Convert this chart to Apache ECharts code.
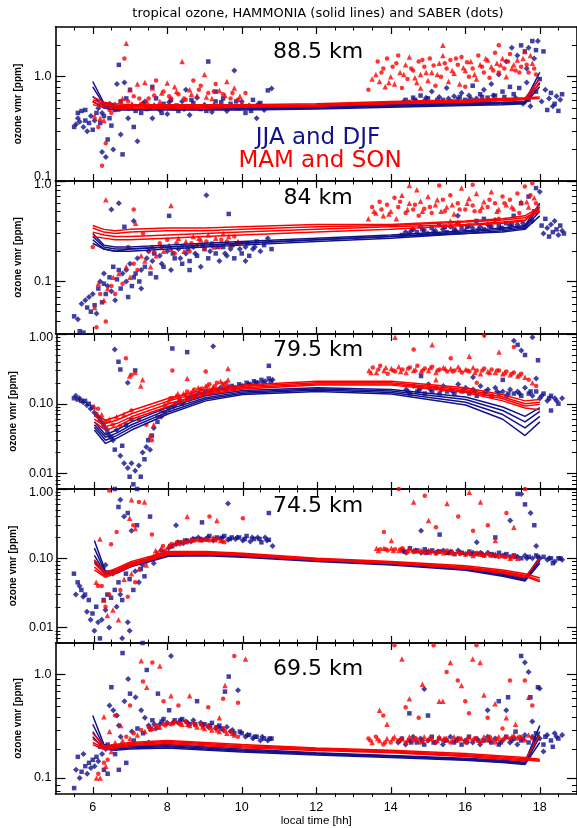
<!DOCTYPE html>
<html><head><meta charset="utf-8">
<script src="https://cdn.jsdelivr.net/npm/echarts@6/dist/echarts.min.js"></script>
<style>html,body{margin:0;padding:0;background:#fff}#c{width:577px;height:828px}</style>
</head><body><div id="c"></div>
<script>
// ---------------- DATA ----------------
const titleText = 'tropical ozone, HAMMONIA (solid lines) and SABER (dots)';
const panelNames = ['88.5 km', '84 km', '79.5 km', '74.5 km', '69.5 km'];
const xTickLabels = [6, 8, 10, 12, 14, 16, 18];
const yRanges = [[0.1, 3.0], [0.03, 1.0], [0.006, 1.0], [0.006, 1.0], [0.07, 2.0]];
const yDecimals = [1, 1, 2, 2, 1];

// model (HAMMONIA) local times
const lineX = [6.0, 6.3, 6.6, 7, 8, 9, 10, 12, 14, 16, 17, 17.6, 18.0];

// Panel 1: 88.5 km
const p1BlueLines = [
  [0.90,0.56,0.53,0.52,0.51,0.51,0.51,0.52,0.54,0.56,0.57,0.58,1.10],
  [0.80,0.54,0.51,0.50,0.50,0.50,0.50,0.51,0.53,0.55,0.56,0.57,0.98],
  [0.65,0.52,0.50,0.49,0.49,0.49,0.49,0.50,0.52,0.54,0.55,0.56,0.88],
  [0.58,0.50,0.48,0.48,0.48,0.48,0.48,0.49,0.51,0.53,0.54,0.55,0.80]];
const p1RedLines = [
  [0.64,0.57,0.55,0.54,0.54,0.54,0.54,0.55,0.58,0.60,0.62,0.63,0.64],
  [0.60,0.55,0.53,0.53,0.53,0.53,0.53,0.54,0.57,0.59,0.61,0.62,0.95],
  [0.57,0.53,0.52,0.52,0.52,0.52,0.52,0.53,0.56,0.58,0.60,0.61,0.62],
  [0.54,0.51,0.50,0.50,0.50,0.50,0.51,0.52,0.55,0.57,0.59,0.60,0.85]];
const p1BlueAM = [[5.5,0.33],[5.55,0.35],[5.6,0.45],[5.65,0.37],[5.7,0.47],[5.75,0.33],[5.8,0.48],[5.85,0.30],[5.9,0.36],[5.95,0.42],[6.0,0.31],[6.05,0.38],[6.1,0.45],[6.15,0.50],[6.2,0.36],[6.25,0.19],[6.3,0.42],[6.35,0.17],[6.4,0.25],[6.45,0.55],[6.5,0.34],[6.55,0.20],[6.6,0.48],[6.65,0.85],[6.7,1.3],[6.75,0.28],[6.8,0.18],[6.85,0.88],[6.9,0.62],[6.95,0.40],[7.0,0.75],[7.05,0.53],[7.1,0.33],[7.2,0.24],[7.3,0.45],[7.4,0.58],[7.5,0.52],[7.6,0.40],[7.7,0.62],[7.8,0.48],[7.9,0.55],[8.0,0.44],[8.1,0.60],[8.2,0.50],[8.3,0.47],[8.4,0.58],[8.5,0.52],[8.6,0.43],[8.7,0.56],[8.8,0.63],[8.9,0.49],[9.0,0.54],[9.1,1.4],[9.2,0.46],[9.3,0.58],[9.4,0.51],[9.5,0.62],[9.6,0.47],[9.7,0.55],[9.8,1.15],[9.9,0.50],[10.0,0.58],[10.1,0.45],[10.2,0.53],[10.3,0.60],[10.4,0.40],[10.5,0.56],[10.6,0.48],[10.7,0.74],[10.8,0.77],[7.6,0.80],[8.5,0.75],[9.3,0.72],
  [6.55,0.52],[6.75,0.58],[6.95,0.50],[7.15,0.47],[7.35,0.55],[7.45,0.49],[7.65,0.53],[7.85,0.45],[8.05,0.57],[8.25,0.53],[8.45,0.49],[8.65,0.60],[8.85,0.51],[9.05,0.47],[9.25,0.53],[9.45,0.57],[9.65,0.50],[9.85,0.58],[10.05,0.52],[10.25,0.47],[10.45,0.55],[10.65,0.52],[6.25,0.45],[6.45,0.40],[5.6,0.40],[5.8,0.38]];
const p1BluePM = [[14.3,0.55],[14.4,0.60],[14.5,0.57],[14.6,0.63],[14.7,0.58],[14.8,0.66],[14.9,0.59],[15.0,0.62],[15.1,0.72],[15.2,0.57],[15.3,0.64],[15.4,0.60],[15.5,0.78],[15.6,0.58],[15.7,0.65],[15.8,0.61],[15.9,0.70],[16.0,0.60],[16.1,0.66],[16.2,0.82],[16.3,0.62],[16.4,0.68],[16.5,0.75],[16.6,0.63],[16.7,0.85],[16.8,0.66],[16.9,1.05],[17.0,0.72],[17.1,1.4],[17.2,0.80],[17.25,1.9],[17.3,0.68],[17.4,1.6],[17.5,2.0],[17.55,0.55],[17.6,1.75],[17.65,1.2],[17.7,0.60],[17.75,0.52],[17.8,2.2],[17.85,1.5],[17.9,0.72],[17.95,2.2],[18.0,0.95],[18.05,0.58],[18.1,1.75],[18.15,0.75],[18.2,0.48],[18.25,0.62],[18.3,0.70],[18.35,0.52],[18.4,0.55],[18.45,0.65],[18.5,0.47],[18.55,0.60],[18.6,0.68],
  [14.35,0.58],[14.65,0.60],[14.95,0.63],[15.25,0.60],[15.55,0.62],[15.85,0.64],[16.15,0.62],[16.45,0.64],[16.75,0.66],[17.05,0.64],[17.35,0.63],[17.45,0.78],[17.65,0.88],[17.9,1.8],[17.7,1.9]];
const p1RedAM = [[6.05,0.42],[6.15,0.33],[6.2,0.40],[6.25,0.14],[6.3,0.38],[6.35,0.23],[6.4,0.52],[6.5,0.45],[6.6,0.55],[6.7,0.48],[6.8,0.62],[6.85,1.5],[6.9,2.1],[6.95,0.58],[7.0,0.75],[7.1,0.65],[7.2,0.85],[7.3,0.55],[7.4,0.88],[7.5,0.62],[7.6,0.78],[7.7,0.92],[7.8,0.58],[7.9,0.72],[8.0,0.87],[8.1,0.62],[8.2,0.80],[8.3,0.68],[8.4,1.4],[8.5,0.60],[8.6,0.75],[8.7,0.92],[8.8,0.66],[8.9,0.82],[9.0,1.05],[9.1,0.70],[9.2,0.62],[9.3,0.85],[9.4,0.74],[9.5,0.68],[9.6,0.90],[9.7,0.62],[9.8,0.78],[9.9,0.60],[10.0,0.56],[10.1,0.70],[8.15,0.52],[7.55,0.50],[9.45,0.55],
  [6.45,0.48],[6.65,0.52],[6.75,0.58],[7.05,0.55],[7.25,0.62],[7.45,0.58],[7.65,0.66],[7.85,0.70],[8.05,0.65],[8.25,0.72],[8.45,0.62],[8.65,0.68],[8.85,0.75],[9.05,0.64],[9.25,0.72],[9.55,0.66],[9.75,0.70],[9.95,0.65]];
const p1RedPM = [[13.4,0.75],[13.6,1.05],[13.65,1.4],[13.7,0.9],[13.8,1.2],[13.85,0.8],[13.9,1.5],[14.0,1.0],[14.05,1.25],[14.1,0.85],[14.2,1.6],[14.25,1.1],[14.3,0.78],[14.4,1.3],[14.45,0.95],[14.5,1.55],[14.6,1.15],[14.7,0.88],[14.75,1.4],[14.8,1.05],[14.9,1.25],[15.0,0.92],[15.05,1.5],[15.1,1.1],[15.2,0.82],[15.3,1.35],[15.35,1.0],[15.4,1.6],[15.5,1.2],[15.55,0.9],[15.6,1.45],[15.7,1.08],[15.8,1.3],[15.85,0.85],[15.9,1.55],[16.0,1.15],[16.1,1.0],[16.15,1.4],[16.2,1.2],[16.3,0.95],[16.35,1.6],[16.4,1.3],[16.5,1.1],[16.6,1.45],[16.65,0.98],[16.7,1.25],[16.8,1.7],[16.85,1.35],[16.9,1.1],[17.0,1.5],[17.05,1.2],[17.1,1.0],[17.2,1.65],[17.3,1.3],[17.35,1.15],[17.4,1.45],[17.5,1.25],[17.6,1.75],[17.7,1.1],[17.8,1.35],[17.9,1.05],[15.4,2.0],[16.9,2.0],[14.8,0.78],[16.0,0.8],
  [13.5,0.95],[13.75,1.1],[13.95,0.88],[14.15,1.35],[14.35,1.05],[14.55,1.2],[14.65,0.98],[14.85,1.45],[14.95,1.1],[15.15,1.28],[15.25,1.05],[15.45,1.35],[15.65,1.15],[15.75,1.5],[15.95,1.22],[16.05,1.38],[16.25,1.05],[16.45,1.25],[16.55,1.5],[16.75,1.15],[16.95,1.3],[17.15,1.4],[17.25,1.2],[17.45,1.1],[17.55,1.5],[17.65,1.3],[17.75,1.6],[17.85,1.2]];

// Panel 2: 84 km
const p2BlueLines = [
  [0.30,0.23,0.22,0.22,0.23,0.24,0.25,0.27,0.29,0.32,0.34,0.36,0.60],
  [0.28,0.22,0.21,0.21,0.22,0.23,0.24,0.26,0.28,0.31,0.33,0.35,0.55],
  [0.26,0.21,0.20,0.21,0.22,0.23,0.24,0.26,0.28,0.30,0.32,0.34,0.50],
  [0.24,0.21,0.20,0.20,0.21,0.22,0.23,0.25,0.27,0.30,0.31,0.33,0.45]];
const p2RedLines = [
  [0.36,0.33,0.32,0.33,0.34,0.34,0.35,0.37,0.37,0.40,0.42,0.45,0.55],
  [0.34,0.31,0.30,0.31,0.32,0.32,0.33,0.35,0.36,0.39,0.41,0.43,0.52],
  [0.31,0.29,0.28,0.28,0.29,0.30,0.31,0.33,0.35,0.37,0.39,0.41,0.50],
  [0.28,0.27,0.26,0.26,0.27,0.28,0.29,0.31,0.33,0.36,0.38,0.40,0.58]];
const p2BlueAM = [[5.5,0.045],[5.6,0.042],[5.65,0.032],[5.7,0.060],[5.75,0.031],[5.8,0.065],[5.85,0.055],[5.9,0.070],[5.95,0.050],[6.0,0.075],[6.05,0.058],[6.1,0.048],[6.15,0.085],[6.2,0.100],[6.25,0.062],[6.3,0.12],[6.35,0.075],[6.4,0.090],[6.45,0.11],[6.5,0.52],[6.55,0.14],[6.6,0.065],[6.65,0.105],[6.7,0.60],[6.75,0.085],[6.8,0.12],[6.85,0.35],[6.9,0.10],[6.95,0.07],[7.0,0.15],[7.05,0.09],[7.1,0.40],[7.15,0.12],[7.2,0.17],[7.25,0.10],[7.3,0.085],[7.4,0.14],[7.5,0.20],[7.55,0.12],[7.6,0.16],[7.7,0.11],[7.8,0.18],[7.9,0.14],[8.0,0.20],[8.05,0.45],[8.1,0.13],[8.2,0.17],[8.3,0.21],[8.4,0.15],[8.5,0.19],[8.6,0.16],[8.7,0.22],[8.8,0.18],[8.9,0.14],[9.0,0.21],[9.05,0.72],[9.1,0.17],[9.2,0.23],[9.3,0.19],[9.4,0.16],[9.5,0.22],[9.6,0.18],[9.65,0.47],[9.7,0.21],[9.8,0.17],[9.9,0.24],[10.0,0.19],[10.1,0.22],[10.2,0.18],[10.3,0.21],[10.4,0.25],[10.5,0.20],[10.6,0.23],[10.7,0.27],[10.8,0.21],[10.1,0.16],[8.6,0.13],
  [7.45,0.17],[7.65,0.19],[7.85,0.15],[8.15,0.19],[8.35,0.17],[8.55,0.21],[8.75,0.19],[8.95,0.23],[9.15,0.20],[9.35,0.22],[9.55,0.19],[9.75,0.23],[9.95,0.21],[10.15,0.24],[10.35,0.22],[6.3,0.095],[6.5,0.08],[6.7,0.13],[6.9,0.13],[7.1,0.11],[7.3,0.13]];
const p2BluePM = [[14.3,0.29],[14.4,0.31],[14.5,0.30],[14.6,0.33],[14.7,0.31],[14.8,0.35],[14.9,0.32],[15.0,0.30],[15.1,0.34],[15.2,0.32],[15.3,0.37],[15.4,0.33],[15.5,0.31],[15.6,0.35],[15.7,0.33],[15.8,0.38],[15.9,0.34],[16.0,0.32],[16.1,0.36],[16.2,0.34],[16.3,0.40],[16.4,0.35],[16.5,0.33],[16.6,0.37],[16.7,0.35],[16.8,0.41],[16.9,0.36],[17.0,0.34],[17.1,0.38],[17.2,0.36],[17.3,0.45],[17.4,0.37],[17.5,0.60],[17.6,0.35],[17.7,0.70],[17.8,0.40],[17.9,0.85],[18.0,0.78],[18.05,0.36],[18.1,0.30],[18.15,0.42],[18.2,0.34],[18.25,0.28],[18.3,0.37],[18.35,0.31],[18.4,0.40],[18.45,0.33],[18.5,0.29],[18.55,0.36],[18.6,0.32],[18.65,0.30],[15.8,0.45],[16.5,0.42],
  [14.55,0.32],[14.85,0.33],[15.15,0.31],[15.45,0.35],[15.75,0.32],[16.05,0.35],[16.35,0.33],[16.65,0.36],[16.95,0.34],[17.25,0.37],[17.55,0.38],[17.85,0.5]];
const p2RedAM = [[6.05,0.055],[6.1,0.035],[6.15,0.095],[6.2,0.075],[6.3,0.065],[6.35,0.040],[6.4,0.085],[6.5,0.09],[6.55,0.11],[6.6,0.075],[6.7,0.12],[6.8,0.095],[6.9,0.14],[6.95,0.22],[7.0,0.11],[7.1,0.15],[7.15,0.38],[7.2,0.13],[7.3,0.18],[7.35,0.30],[7.4,0.16],[7.5,0.20],[7.55,0.14],[7.6,0.22],[7.7,0.18],[7.8,0.24],[7.9,0.20],[8.0,0.26],[8.1,0.21],[8.2,0.19],[8.3,0.27],[8.4,0.22],[8.5,0.25],[8.6,0.20],[8.7,0.28],[8.8,0.23],[8.9,0.26],[9.0,0.21],[9.1,0.29],[9.2,0.24],[9.3,0.27],[9.4,0.22],[9.5,0.30],[9.6,0.25],[9.7,0.23],[9.8,0.28],[9.9,0.25],[10.0,0.24],[6.35,0.65],[7.1,0.52],[8.1,0.57],[6.0,0.22],
  [7.65,0.2],[7.85,0.22],[8.05,0.23],[8.25,0.24],[8.45,0.2],[8.65,0.24],[8.85,0.27],[9.05,0.25],[9.25,0.22],[9.45,0.26],[9.65,0.28],[9.85,0.24]];
const p2RedPM = [[13.4,0.42],[13.5,0.55],[13.6,0.48],[13.7,0.62],[13.8,0.45],[13.9,0.58],[14.0,0.50],[14.1,0.68],[14.15,0.42],[14.2,0.55],[14.3,0.72],[14.4,0.48],[14.5,0.60],[14.6,0.52],[14.7,0.82],[14.75,0.45],[14.8,0.63],[14.9,0.53],[15.0,0.70],[15.1,0.48],[15.2,0.58],[15.3,0.90],[15.35,0.50],[15.4,0.65],[15.5,0.55],[15.6,0.72],[15.7,0.47],[15.8,0.60],[15.9,0.85],[16.0,0.52],[16.1,0.67],[16.2,0.57],[16.3,0.75],[16.4,0.50],[16.5,0.62],[16.6,0.55],[16.7,0.78],[16.8,0.60],[16.9,0.52],[17.0,0.70],[17.1,0.58],[17.2,0.65],[17.3,0.53],[17.4,0.75],[17.5,0.62],[17.6,0.88],[17.7,0.55],[17.8,0.95],[17.85,0.68],[17.9,0.60],[14.5,0.90],[16.2,0.92],[15.6,0.40],[16.9,0.42],
  [13.55,0.5],[13.75,0.52],[13.95,0.47],[14.25,0.62],[14.45,0.52],[14.65,0.58],[14.85,0.5],[15.05,0.55],[15.25,0.65],[15.45,0.5],[15.65,0.58],[15.85,0.52],[16.05,0.6],[16.25,0.5],[16.45,0.55],[16.65,0.65],[16.85,0.5],[17.05,0.6],[17.25,0.55],[17.45,0.48],[17.65,0.62],[17.75,0.72]];

// Panel 3: 79.5 km
const p3BlueLines = [
  [0.055,0.036,0.042,0.055,0.090,0.130,0.155,0.170,0.160,0.125,0.090,0.066,0.088],
  [0.050,0.033,0.038,0.050,0.083,0.122,0.148,0.163,0.152,0.115,0.080,0.055,0.078],
  [0.046,0.030,0.035,0.046,0.077,0.116,0.142,0.157,0.145,0.105,0.070,0.045,0.066],
  [0.042,0.027,0.032,0.042,0.072,0.110,0.136,0.150,0.138,0.096,0.060,0.035,0.055]];
const p3RedLines = [
  [0.075,0.058,0.065,0.080,0.120,0.160,0.185,0.210,0.210,0.170,0.135,0.110,0.115],
  [0.068,0.052,0.058,0.072,0.110,0.150,0.178,0.200,0.200,0.160,0.125,0.100,0.105],
  [0.060,0.047,0.052,0.065,0.100,0.142,0.170,0.192,0.192,0.152,0.118,0.093,0.098],
  [0.055,0.042,0.047,0.060,0.092,0.135,0.163,0.185,0.185,0.145,0.110,0.087,0.082]];
const p3BlueAM = [[5.45,0.12],[5.5,0.13],[5.55,0.115],[5.6,0.12],[5.65,0.11],[5.7,0.105],[5.75,0.11],[5.8,0.095],[5.85,0.1],[5.9,0.085],[5.95,0.09],[6.0,0.075],[6.05,0.07],[6.1,0.065],[6.15,0.06],[6.2,0.055],[6.25,0.05],[6.3,0.045],[6.35,0.04],[6.4,0.035],[6.45,0.033],[6.5,0.03],[6.55,0.022],[6.6,0.042],[6.65,0.40],[6.7,0.018],[6.75,0.025],[6.8,0.014],[6.85,0.05],[6.9,0.012],[6.95,0.009],[7.0,0.014],[7.05,0.007],[7.1,0.011],[7.15,0.006],[7.2,0.013],[7.25,0.009],[7.3,0.02],[7.35,0.016],[7.4,0.024],[7.45,0.03],[7.5,0.022],[7.55,0.035],[7.6,0.045],[7.7,0.055],[7.8,0.065],[7.9,0.075],[8.0,0.085],[8.1,0.09],[8.2,0.1],[8.3,0.11],[8.4,0.105],[8.5,0.12],[8.6,0.125],[8.7,0.13],[8.8,0.14],[8.9,0.135],[9.0,0.15],[9.1,0.145],[9.2,0.16],[9.3,0.155],[9.4,0.17],[9.5,0.165],[9.6,0.175],[9.7,0.18],[9.8,0.17],[9.9,0.19],[10.0,0.18],[10.1,0.2],[10.2,0.19],[10.3,0.21],[10.4,0.2],[10.5,0.22],[10.6,0.21],[10.7,0.23],[10.8,0.22],[6.7,0.31],[6.9,0.20],[7.1,0.30],[7.0,0.06],[8.5,0.55],[9.2,0.67],[10.7,0.35],[6.55,0.6],[8.1,0.62],
  [8.15,0.095],[8.35,0.1],[8.55,0.115],[8.75,0.125],[8.95,0.14],[9.15,0.15],[9.35,0.16],[9.55,0.16],[9.75,0.17],[9.95,0.18],[10.15,0.19],[10.35,0.2],[10.55,0.2],[10.75,0.21]];
const p3BluePM = [[14.4,0.16],[14.5,0.14],[14.6,0.18],[14.7,0.15],[14.8,0.17],[14.9,0.14],[15.0,0.19],[15.1,0.15],[15.2,0.17],[15.3,0.14],[15.4,0.18],[15.5,0.15],[15.6,0.16],[15.7,0.14],[15.8,0.19],[15.9,0.15],[16.0,0.17],[16.1,0.14],[16.2,0.16],[16.3,0.13],[16.4,0.18],[16.5,0.14],[16.6,0.16],[16.7,0.13],[16.8,0.17],[16.9,0.14],[17.0,0.15],[17.1,0.13],[17.2,0.16],[17.3,0.14],[17.4,0.15],[17.5,0.13],[17.6,0.17],[17.7,0.14],[17.8,0.13],[17.9,0.15],[18.0,0.12],[18.1,0.14],[18.2,0.11],[18.3,0.13],[18.4,0.12],[18.5,0.10],[18.6,0.12],[18.3,0.08],[17.3,0.80],[17.4,0.70],[17.5,0.58],[17.6,0.50],[17.8,0.90],[17.95,0.42],[17.9,0.23],[14.8,0.25],[16.2,0.24],[17.0,0.22],
  [14.45,0.15],[14.75,0.16],[15.05,0.16],[15.35,0.16],[15.65,0.15],[15.95,0.16],[16.25,0.15],[16.55,0.15],[16.85,0.15],[17.15,0.14],[17.45,0.14],[17.75,0.15],[18.05,0.13],[18.25,0.12],[18.45,0.11]];
const p3RedAM = [[6.0,0.09],[6.1,0.085],[6.2,0.07],[6.3,0.055],[6.4,0.06],[6.5,0.05],[6.6,0.065],[6.7,0.048],[6.8,0.07],[6.85,0.45],[6.95,0.25],[7.0,0.08],[7.1,0.28],[7.2,0.06],[7.3,0.22],[7.4,0.05],[7.5,0.035],[7.55,0.03],[7.6,0.05],[7.7,0.065],[7.8,0.08],[7.9,0.095],[8.0,0.11],[8.1,0.12],[8.2,0.13],[8.3,0.125],[8.4,0.14],[8.5,0.15],[8.6,0.145],[8.7,0.16],[8.8,0.17],[8.9,0.165],[9.0,0.18],[9.1,0.19],[9.2,0.175],[9.3,0.2],[9.4,0.21],[9.5,0.19],[9.6,0.22],[7.0,0.26],[7.25,0.18],[8.1,0.3],[8.5,0.23],[9.0,0.29],[9.6,0.32],
  [8.05,0.12],[8.25,0.14],[8.45,0.135],[8.65,0.155],[8.85,0.16],[9.05,0.185],[9.25,0.18],[9.45,0.195],[9.55,0.2]];
const p3RedPM = [[13.4,0.3],[13.5,0.33],[13.6,0.28],[13.7,0.35],[13.8,0.3],[13.9,0.27],[14.0,0.32],[14.1,0.29],[14.2,0.34],[14.3,0.31],[14.4,0.28],[14.5,0.33],[14.6,0.3],[14.7,0.35],[14.8,0.29],[14.9,0.32],[15.0,0.3],[15.1,0.34],[15.2,0.28],[15.3,0.31],[15.4,0.33],[15.5,0.29],[15.6,0.32],[15.7,0.3],[15.8,0.34],[15.9,0.28],[16.0,0.31],[16.1,0.29],[16.2,0.33],[16.3,0.3],[16.4,0.27],[16.5,0.32],[16.6,0.29],[16.7,0.31],[16.8,0.28],[16.9,0.3],[17.0,0.27],[17.1,0.29],[17.2,0.26],[17.3,0.28],[17.4,0.25],[17.5,0.27],[17.6,0.24],[17.7,0.22],[17.8,0.2],[17.9,0.18],[14.1,0.9],[14.6,0.6],[15.1,0.7],[15.6,0.45],[16.1,0.48],[16.5,0.95],[16.9,0.55],[17.3,0.65],[15.2,0.22],[16.3,0.2],
  [13.45,0.28],[13.65,0.31],[13.85,0.33],[14.05,0.3],[14.25,0.29],[14.45,0.32],[14.65,0.31],[14.85,0.3],[15.05,0.33],[15.25,0.3],[15.45,0.32],[15.65,0.29],[15.85,0.31],[16.05,0.3],[16.25,0.28],[16.45,0.3],[16.65,0.28],[16.85,0.3],[17.05,0.28],[17.25,0.27],[17.45,0.26]];

// Panel 4: 74.5 km
const p4BlueLines = [
  [0.180,0.065,0.068,0.085,0.118,0.118,0.112,0.096,0.086,0.073,0.061,0.052,0.105],
  [0.140,0.062,0.065,0.082,0.114,0.115,0.109,0.094,0.084,0.071,0.059,0.050,0.098],
  [0.110,0.060,0.063,0.079,0.110,0.112,0.106,0.092,0.082,0.069,0.057,0.048,0.092],
  [0.090,0.058,0.061,0.076,0.107,0.109,0.104,0.090,0.080,0.067,0.055,0.047,0.085]];
const p4RedLines = [
  [0.095,0.062,0.072,0.090,0.125,0.125,0.118,0.100,0.090,0.078,0.068,0.060,0.052],
  [0.085,0.058,0.068,0.085,0.120,0.122,0.115,0.098,0.088,0.075,0.065,0.057,0.048],
  [0.075,0.055,0.065,0.082,0.117,0.119,0.112,0.096,0.086,0.073,0.063,0.055,0.046],
  [0.068,0.053,0.062,0.078,0.113,0.115,0.109,0.094,0.084,0.071,0.061,0.053,0.100]];
const p4BlueAM = [[5.45,0.06],[5.5,0.03],[5.55,0.045],[5.6,0.04],[5.65,0.035],[5.7,0.028],[5.75,0.03],[5.8,0.017],[5.85,0.025],[5.9,0.013],[5.95,0.016],[6.0,0.009],[6.05,0.02],[6.1,0.012],[6.15,0.007],[6.2,0.013],[6.25,0.025],[6.3,0.018],[6.35,0.03],[6.4,0.01],[6.45,0.027],[6.5,0.06],[6.55,0.035],[6.6,0.02],[6.65,0.045],[6.7,0.03],[6.75,0.025],[6.8,0.4],[6.85,0.06],[6.9,0.012],[6.95,0.05],[7.0,0.25],[7.05,0.035],[7.1,0.065],[7.15,0.3],[7.2,0.045],[7.25,0.07],[7.3,0.08],[7.35,0.055],[7.4,0.09],[7.5,0.1],[7.6,0.085],[7.7,0.11],[7.8,0.13],[7.9,0.12],[8.0,0.14],[8.1,0.15],[8.2,0.16],[8.3,0.17],[8.4,0.165],[8.5,0.18],[8.6,0.175],[8.7,0.19],[8.8,0.2],[8.9,0.185],[9.0,0.19],[9.1,0.21],[9.2,0.18],[9.3,0.2],[9.4,0.195],[9.5,0.21],[9.6,0.185],[9.7,0.2],[9.8,0.19],[9.9,0.2],[10.0,0.18],[10.1,0.21],[10.2,0.175],[10.3,0.19],[10.4,0.2],[10.5,0.17],[10.6,0.2],[10.7,0.185],[10.8,0.15],[10.7,0.45],[9.6,0.62],[6.55,1.0],[6.7,0.7],[6.65,0.55],[7.1,1.2],[6.9,0.45],[6.3,0.08],[7.5,0.4],[8.2,0.3],[8.9,0.33],[6.75,0.007],[7.3,0.006],[6.95,0.009],
  [8.05,0.15],[8.25,0.17],[8.45,0.18],[8.65,0.19],[8.85,0.19],[9.05,0.2],[9.25,0.19],[9.45,0.2],[9.65,0.19],[9.85,0.2],[10.05,0.19],[10.25,0.2],[10.45,0.19],[10.65,0.18]];
const p4BluePM = [[14.3,0.13],[14.4,0.12],[14.5,0.14],[14.6,0.125],[14.7,0.13],[14.8,0.12],[14.9,0.135],[15.0,0.125],[15.1,0.13],[15.2,0.12],[15.3,0.125],[15.4,0.13],[15.5,0.12],[15.6,0.125],[15.7,0.115],[15.8,0.13],[15.9,0.12],[16.0,0.115],[16.1,0.125],[16.2,0.12],[16.3,0.115],[16.4,0.12],[16.5,0.11],[16.6,0.12],[16.7,0.115],[16.8,0.11],[16.9,0.12],[17.0,0.11],[17.1,0.115],[17.2,0.105],[17.3,0.11],[17.4,0.105],[17.5,0.1],[17.6,0.11],[17.7,0.105],[17.8,0.1],[17.9,0.11],[18.0,0.1],[18.1,0.105],[18.2,0.095],[18.3,0.1],[18.4,0.09],[18.5,0.1],[18.6,0.095],[18.35,0.085],[14.8,0.25],[15.3,0.22],[16.3,0.17],[16.8,0.2],[17.2,0.35],[17.4,0.85],[17.5,0.85],[17.6,0.6],[17.75,0.45],[17.85,0.3],[17.9,0.15],
  [14.35,0.125],[14.65,0.13],[14.95,0.12],[15.25,0.125],[15.55,0.12],[15.85,0.12],[16.15,0.115],[16.45,0.115],[16.75,0.11],[17.05,0.11],[17.35,0.105],[17.65,0.1],[17.95,0.105],[18.25,0.1],[18.55,0.1]];
const p4RedAM = [[6.05,0.045],[6.1,0.04],[6.15,0.19],[6.2,0.04],[6.25,0.025],[6.3,0.02],[6.35,0.015],[6.4,0.03],[6.5,0.018],[6.6,0.24],[6.65,0.013],[6.7,0.035],[6.8,0.05],[6.9,0.028],[7.0,0.06],[7.1,0.045],[7.2,0.07],[7.3,0.09],[7.4,0.08],[7.5,0.1],[7.6,0.11],[7.7,0.12],[7.8,0.14],[7.9,0.13],[8.0,0.15],[8.1,0.16],[8.2,0.17],[8.3,0.16],[8.4,0.18],[8.5,0.17],[8.6,0.185],[8.7,0.18],[8.8,0.19],[8.9,0.18],[9.0,0.19],[9.1,0.18],[9.2,0.2],[9.3,0.19],[9.4,0.18],[9.5,0.17],[6.25,1.1],[6.4,0.95],[7.0,0.7],[7.2,0.65],[7.35,0.65],[7.05,0.3],[7.1,0.27],[7.55,0.22],[8.5,0.4],[9.1,0.4],[9.3,0.35],[10.0,0.38],[6.95,0.38],[6.45,0.16],
  [7.65,0.13],[7.85,0.15],[8.05,0.16],[8.25,0.17],[8.45,0.175],[8.65,0.18],[8.85,0.185],[9.05,0.185],[9.25,0.185],[9.45,0.175]];
const p4RedPM = [[13.6,0.14],[13.7,0.135],[13.8,0.14],[13.9,0.13],[14.0,0.14],[14.1,0.135],[14.2,0.13],[14.3,0.14],[14.4,0.125],[14.5,0.135],[14.6,0.13],[14.7,0.125],[14.8,0.13],[14.9,0.12],[15.0,0.13],[15.1,0.125],[15.2,0.12],[15.3,0.125],[15.4,0.12],[15.5,0.13],[15.6,0.12],[15.7,0.115],[15.8,0.125],[15.9,0.12],[16.0,0.115],[16.1,0.12],[16.2,0.11],[16.3,0.12],[16.4,0.115],[16.5,0.11],[16.6,0.12],[16.7,0.11],[16.8,0.115],[16.9,0.105],[17.0,0.11],[17.1,0.105],[17.2,0.1],[17.3,0.11],[17.4,0.1],[14.2,1.0],[14.6,0.65],[14.9,0.8],[15.0,0.35],[15.2,0.28],[15.5,0.62],[15.8,0.4],[16.1,0.9],[16.2,0.25],[16.4,0.65],[16.6,0.3],[16.8,0.18],[17.1,0.45],[17.3,0.28],[17.6,1.0],[14.0,0.18],[13.8,0.24],
  [13.65,0.13],[13.85,0.135],[14.05,0.13],[14.25,0.135],[14.45,0.13],[14.65,0.125],[14.85,0.125],[15.05,0.12],[15.25,0.125],[15.45,0.12],[15.65,0.125],[15.85,0.115],[16.05,0.12],[16.25,0.115],[16.45,0.115],[16.65,0.11],[16.85,0.11],[17.05,0.105],[17.25,0.105]];

// Panel 5: 69.5 km
const p5BlueLines = [
  [0.40,0.21,0.200,0.205,0.210,0.200,0.190,0.175,0.165,0.155,0.148,0.142,0.32],
  [0.33,0.20,0.195,0.200,0.205,0.195,0.185,0.172,0.163,0.152,0.145,0.139,0.28],
  [0.28,0.195,0.19,0.195,0.200,0.190,0.182,0.170,0.160,0.150,0.143,0.137,0.25],
  [0.25,0.19,0.185,0.19,0.195,0.186,0.178,0.167,0.158,0.148,0.141,0.135,0.22]];
const p5RedLines = [
  [0.27,0.205,0.210,0.220,0.230,0.220,0.210,0.195,0.185,0.172,0.163,0.158,0.152],
  [0.24,0.198,0.205,0.215,0.225,0.215,0.205,0.192,0.182,0.168,0.159,0.153,0.148],
  [0.22,0.193,0.200,0.210,0.220,0.210,0.200,0.188,0.178,0.164,0.155,0.150,0.145],
  [0.21,0.188,0.195,0.205,0.215,0.205,0.196,0.184,0.175,0.161,0.152,0.147,0.26]];
const p5BlueAM = [[5.5,0.08],[5.55,0.12],[5.6,0.16],[5.65,0.1],[5.7,0.115],[5.75,0.17],[5.8,0.13],[5.85,0.11],[5.9,0.14],[5.95,0.125],[6.0,0.15],[6.05,0.13],[6.1,0.16],[6.15,0.145],[6.2,0.2],[6.25,0.17],[6.3,0.12],[6.35,0.19],[6.4,0.21],[6.45,0.5],[6.5,0.75],[6.55,0.45],[6.6,0.17],[6.65,0.4],[6.7,0.12],[6.75,0.25],[6.8,1.6],[6.85,0.55],[6.9,0.14],[6.95,0.9],[7.0,0.65],[7.05,0.28],[7.1,0.23],[7.15,0.6],[7.2,0.3],[7.3,0.45],[7.35,0.27],[7.4,0.38],[7.45,1.1],[7.5,0.32],[7.6,0.36],[7.7,0.3],[7.75,0.65],[7.8,0.33],[7.9,0.37],[8.0,0.34],[8.05,0.45],[8.1,1.5],[8.2,0.36],[8.3,0.34],[8.4,0.37],[8.5,0.35],[8.6,0.33],[8.7,0.36],[8.8,0.55],[8.9,0.34],[9.0,0.33],[9.1,0.31],[9.2,0.34],[9.3,0.3],[9.4,0.32],[9.5,0.29],[9.55,0.68],[9.6,0.31],[9.65,0.95],[9.7,0.28],[9.8,0.27],[9.9,0.7],[10.0,0.27],[10.1,0.25],[10.2,0.26],[10.3,0.24],[10.4,0.25],[10.5,0.23],[10.6,0.24],[10.7,0.23],[10.8,0.24],[7.5,0.22],[6.4,0.11],[6.7,0.32],
  [7.55,0.3],[7.65,0.33],[7.85,0.35],[8.15,0.34],[8.35,0.36],[8.55,0.34],[8.75,0.33],[8.95,0.32],[9.15,0.32],[9.35,0.31],[9.45,0.3],[9.75,0.29],[9.95,0.28],[10.15,0.26],[10.35,0.25],[10.55,0.25],[10.75,0.24]];
const p5BluePM = [[14.2,0.22],[14.3,0.24],[14.4,0.21],[14.5,0.23],[14.6,0.25],[14.7,0.22],[14.8,0.24],[14.9,0.21],[15.0,0.23],[15.1,0.25],[15.2,0.22],[15.3,0.24],[15.4,0.21],[15.5,0.23],[15.6,0.25],[15.7,0.22],[15.8,0.24],[15.9,0.21],[16.0,0.23],[16.1,0.25],[16.2,0.22],[16.3,0.24],[16.4,0.21],[16.5,0.23],[16.6,0.25],[16.7,0.22],[16.8,0.24],[16.9,0.21],[17.0,0.23],[17.1,0.25],[17.2,0.22],[17.3,0.24],[17.4,0.21],[17.5,0.23],[17.6,0.26],[17.7,0.22],[17.8,0.25],[17.9,0.27],[18.0,0.24],[18.1,0.21],[18.2,0.26],[18.3,0.23],[18.4,0.27],[18.5,0.24],[18.6,0.26],[18.35,0.2],[18.1,0.18],[14.5,0.42],[14.9,0.72],[15.0,0.4],[16.6,0.45],[16.9,0.55],[17.1,0.45],[17.15,0.6],[17.6,1.3],[17.5,1.5],[17.7,1.05],[17.75,0.6],[17.8,0.35],[17.95,0.75],[18.0,0.73],[17.35,0.28],
  [14.25,0.23],[14.55,0.22],[14.85,0.23],[15.15,0.22],[15.45,0.23],[15.75,0.23],[16.05,0.22],[16.35,0.23],[16.65,0.23],[16.95,0.22],[17.25,0.23],[17.55,0.24],[17.85,0.24],[18.15,0.25],[18.45,0.25]];
const p5RedAM = [[6.1,0.1],[6.15,0.11],[6.2,0.1],[6.3,0.14],[6.35,0.13],[6.4,0.15],[6.5,0.18],[6.55,0.2],[6.6,0.22],[6.7,0.2],[6.8,0.23],[6.9,0.25],[7.0,0.24],[7.1,0.27],[7.2,0.26],[7.3,0.29],[7.4,0.28],[7.5,0.31],[7.6,0.3],[7.7,0.32],[7.8,0.31],[7.9,0.33],[8.0,0.34],[8.1,0.33],[8.2,0.35],[8.3,0.34],[8.4,0.33],[8.5,0.35],[8.6,0.32],[8.7,0.34],[8.8,0.31],[8.9,0.33],[9.0,0.3],[9.1,0.32],[9.2,0.29],[9.3,0.31],[9.4,0.28],[9.5,0.3],[9.6,0.27],[9.7,0.28],[9.8,0.26],[9.9,0.25],[6.45,0.28],[6.6,0.4],[6.75,0.32],[7.0,0.5],[7.3,1.35],[7.35,0.85],[7.45,0.75],[7.6,1.3],[7.8,1.2],[7.9,0.55],[8.1,0.62],[8.3,0.5],[8.6,0.62],[9.1,0.48],[9.4,0.38],[9.5,0.58],[9.55,0.78],[9.8,1.5],[10.1,1.4],[9.9,0.53],[6.3,0.39],
  [7.55,0.29],[7.75,0.31],[7.95,0.32],[8.15,0.34],[8.35,0.33],[8.55,0.33],[8.75,0.32],[8.95,0.31],[9.15,0.3],[9.35,0.29],[9.55,0.28],[9.75,0.27]];
const p5RedPM = [[13.4,0.24],[13.5,0.22],[13.6,0.25],[13.7,0.23],[13.8,0.21],[13.9,0.24],[14.0,0.22],[14.1,0.25],[14.2,0.23],[14.3,0.24],[14.4,0.22],[14.5,0.25],[14.6,0.23],[14.7,0.24],[14.8,0.22],[14.9,0.25],[15.0,0.23],[15.1,0.24],[15.2,0.22],[15.3,0.25],[15.4,0.23],[15.5,0.24],[15.6,0.22],[15.7,0.25],[15.8,0.23],[15.9,0.24],[16.0,0.22],[16.1,0.25],[16.2,0.23],[16.3,0.24],[16.4,0.22],[16.5,0.25],[16.6,0.23],[16.7,0.24],[16.8,0.22],[16.9,0.25],[17.0,0.23],[17.1,0.25],[17.2,0.24],[17.3,0.26],[17.4,0.24],[17.5,0.25],[17.6,0.23],[17.7,0.26],[17.8,0.24],[13.7,0.45],[13.8,0.4],[13.9,0.33],[14.1,1.9],[14.3,1.4],[14.4,0.48],[14.5,0.58],[14.75,0.38],[14.85,0.8],[15.15,1.9],[15.3,0.55],[15.5,1.05],[15.6,1.3],[15.8,0.87],[15.9,0.78],[16.0,0.55],[16.2,1.4],[16.3,1.9],[16.4,1.3],[16.6,0.38],[16.8,0.52],[17.0,0.3],[17.1,0.38],[17.2,0.87],[17.35,0.33],[17.6,0.87],[17.7,0.6],[17.8,0.5],[15.4,0.55],[16.1,0.42],[16.5,0.63],
  [13.45,0.23],[13.65,0.24],[13.85,0.22],[14.05,0.24],[14.25,0.23],[14.45,0.23],[14.65,0.24],[14.85,0.23],[15.05,0.24],[15.25,0.23],[15.45,0.24],[15.65,0.23],[15.85,0.24],[16.05,0.24],[16.25,0.24],[16.45,0.23],[16.65,0.25],[16.85,0.24],[17.05,0.24],[17.25,0.25],[17.45,0.25]];

// ---------------- CHART ----------------
const NAVY = '#12128c', RED = '#ff0000';
const FONT = 'Liberation Sans';
const panels = [
  {blueLines: p1BlueLines, redLines: p1RedLines, blueDots: p1BlueAM.concat(p1BluePM), redDots: p1RedAM.concat(p1RedPM)},
  {blueLines: p2BlueLines, redLines: p2RedLines, blueDots: p2BlueAM.concat(p2BluePM), redDots: p2RedAM.concat(p2RedPM)},
  {blueLines: p3BlueLines, redLines: p3RedLines, blueDots: p3BlueAM.concat(p3BluePM), redDots: p3RedAM.concat(p3RedPM)},
  {blueLines: p4BlueLines, redLines: p4RedLines, blueDots: p4BlueAM.concat(p4BluePM), redDots: p4RedAM.concat(p4RedPM)},
  {blueLines: p5BlueLines, redLines: p5RedLines, blueDots: p5BlueAM.concat(p5BluePM), redDots: p5RedAM.concat(p5RedPM)}
];
const gridTops = [27, 181, 334, 489, 643];
const gridHeights = [154, 153, 155, 154, 154];
const panelLabelY = [52, 198, 350, 506, 669];
const GL = 55.5, GW = 527, XMIN = 5, XMAX = 19;

const xMinorTicks = [];
for (let v = 5.5; v < 19; v += 0.5) { if (!(Number.isInteger(v) && v % 2 === 0)) xMinorTicks.push(v); }

function decades(mn, mx) {
  const maj = [], min = [];
  for (let e = -4; e <= 2; e++) {
    const p = Math.pow(10, e);
    if (p >= mn * 0.999 && p <= mx * 1.001) maj.push(p);
    for (let k = 2; k <= 9; k++) { const v = k * p; if (v > mn * 1.001 && v < mx * 0.999) min.push(v); }
  }
  return {maj, min};
}

const grids = [], xAxes = [], yAxes = [], series = [];
const axLine = {show: true, onZero: false, lineStyle: {color: '#000', width: 1.6}};
for (let i = 0; i < 5; i++) {
  const g = {left: GL, width: GW, top: gridTops[i], height: gridHeights[i]};
  grids.push(Object.assign({}, g), Object.assign({}, g));
  const gA = 2 * i, gB = 2 * i + 1;
  const last = i === 4;
  const [ymn, ymx] = yRanges[i];
  const dd = decades(ymn, ymx);
  const dec = yDecimals[i];
  const xBase = {type: 'value', min: XMIN, max: XMAX, splitLine: {show: false}};
  xAxes.push(Object.assign({}, xBase, {
    gridIndex: gA, position: 'bottom', axisLine: axLine,
    axisTick: {show: true, inside: true, length: 7, customValues: xTickLabels, lineStyle: {color: '#000', width: 1.2}},
    axisLabel: {show: last, customValues: xTickLabels, color: '#000', fontSize: 12.5, fontFamily: FONT, margin: 7},
    name: last ? 'local time [hh]' : '', nameLocation: 'middle', nameGap: 19,
    nameTextStyle: {color: '#000', fontSize: 11.5, fontFamily: FONT}
  }));
  xAxes.push(Object.assign({}, xBase, {
    gridIndex: gA, position: 'top', axisLine: axLine,
    axisTick: {show: true, inside: true, length: 7, customValues: xTickLabels, lineStyle: {color: '#000', width: 1.2}},
    axisLabel: {show: false}
  }));
  xAxes.push(Object.assign({}, xBase, {
    gridIndex: gB, position: 'bottom', axisLine: {show: false},
    axisTick: {show: true, inside: true, length: 3.5, customValues: xMinorTicks, lineStyle: {color: '#000', width: 1}},
    axisLabel: {show: false}
  }));
  xAxes.push(Object.assign({}, xBase, {
    gridIndex: gB, position: 'top', axisLine: {show: false},
    axisTick: {show: true, inside: true, length: 3.5, customValues: xMinorTicks, lineStyle: {color: '#000', width: 1}},
    axisLabel: {show: false}
  }));
  const yBase = {type: 'log', logBase: 10, min: ymn, max: ymx, splitLine: {show: false}};
  yAxes.push(Object.assign({}, yBase, {
    gridIndex: gA, position: 'left', axisLine: axLine,
    axisTick: {show: true, inside: true, length: 10, customValues: dd.maj, lineStyle: {color: '#000', width: 1.2}},
    axisLabel: {
      show: true, customValues: dd.maj, color: '#000', fontSize: 12.5, fontFamily: FONT, margin: 4,
      formatter: function (v) {
        const s = Number(v).toFixed(dec);
        if (Math.abs(v - ymx) / ymx < 0.01) return '{dn|' + s + '}';
        if (Math.abs(v - ymn) / ymn < 0.01) return '{up|' + s + '}';
        return s;
      },
      rich: {
        dn: {fontSize: 12.5, fontFamily: FONT, color: '#000', padding: [8, 0, 0, 0]},
        up: {fontSize: 12.5, fontFamily: FONT, color: '#000', padding: [0, 0, 8, 0]}
      }
    },
    name: 'ozone vmr [ppm]', nameLocation: 'middle', nameRotate: 90, nameGap: 25,
    nameTextStyle: {color: '#000', fontSize: 10, fontWeight: 'bold', fontFamily: FONT}
  }));
  yAxes.push(Object.assign({}, yBase, {
    gridIndex: gA, position: 'right', axisLine: axLine,
    axisTick: {show: true, inside: true, length: 10, customValues: dd.maj, lineStyle: {color: '#000', width: 1.2}},
    axisLabel: {show: false}
  }));
  yAxes.push(Object.assign({}, yBase, {
    gridIndex: gB, position: 'left', axisLine: {show: false},
    axisTick: {show: true, inside: true, length: 5, customValues: dd.min, lineStyle: {color: '#000', width: 1}},
    axisLabel: {show: false}
  }));
  yAxes.push(Object.assign({}, yBase, {
    gridIndex: gB, position: 'right', axisLine: {show: false},
    axisTick: {show: true, inside: true, length: 5, customValues: dd.min, lineStyle: {color: '#000', width: 1}},
    axisLabel: {show: false}
  }));

  const xi = 4 * i, yi = 4 * i;
  const P = panels[i];
  series.push({
    type: 'scatter', xAxisIndex: xi, yAxisIndex: yi, data: P.blueDots, z: 2, silent: true,
    symbol: (v, p) => (p.dataIndex % 2 ? 'diamond' : 'rect'),
    symbolSize: (v, p) => (p.dataIndex % 2 ? 6 : 4.5),
    itemStyle: {color: NAVY}
  });
  series.push({
    type: 'scatter', xAxisIndex: xi, yAxisIndex: yi, data: P.redDots, z: 2, silent: true,
    symbol: (v, p) => (p.dataIndex % 2 ? 'circle' : 'triangle'),
    symbolSize: (v, p) => (p.dataIndex % 2 ? 4.5 : 5.5),
    itemStyle: {color: RED}
  });
  P.blueLines.forEach(arr => series.push({
    type: 'line', xAxisIndex: xi, yAxisIndex: yi, z: 3, silent: true, showSymbol: false,
    data: lineX.map((x, k) => [x, arr[k]]), lineStyle: {color: NAVY, width: 1.5}
  }));
  P.redLines.forEach(arr => series.push({
    type: 'line', xAxisIndex: xi, yAxisIndex: yi, z: 3, silent: true, showSymbol: false,
    data: lineX.map((x, k) => [x, arr[k]]), lineStyle: {color: RED, width: 1.5}
  }));
}

const textCX = 318;
const graphics = [
  {type: 'text', x: textCX, y: 14, z: 10, style: {text: titleText, fill: '#000', font: '13px "DejaVu Sans"', textAlign: 'center', textVerticalAlign: 'middle'}}
];
panelNames.forEach((t, i) => graphics.push({type: 'text', x: textCX, y: panelLabelY[i], z: 10,
  style: {text: t, fill: '#000', font: '22px "DejaVu Sans"', textAlign: 'center', textVerticalAlign: 'middle'}}));
graphics.push({type: 'text', x: textCX, y: 138, z: 10, style: {text: 'JJA and DJF', fill: NAVY, font: '23px "DejaVu Sans"', textAlign: 'center', textVerticalAlign: 'middle'}});
graphics.push({type: 'text', x: textCX + 2, y: 161, z: 10, style: {text: 'MAM and SON', fill: RED, font: '23px "DejaVu Sans"', textAlign: 'center', textVerticalAlign: 'middle'}});

const chart = echarts.init(document.getElementById('c'), null, {renderer: 'canvas'});
chart.setOption({
  backgroundColor: '#fff',
  animation: false,
  grid: grids,
  xAxis: xAxes,
  yAxis: yAxes,
  series: series,
  graphic: graphics
});
</script>
</body></html>
